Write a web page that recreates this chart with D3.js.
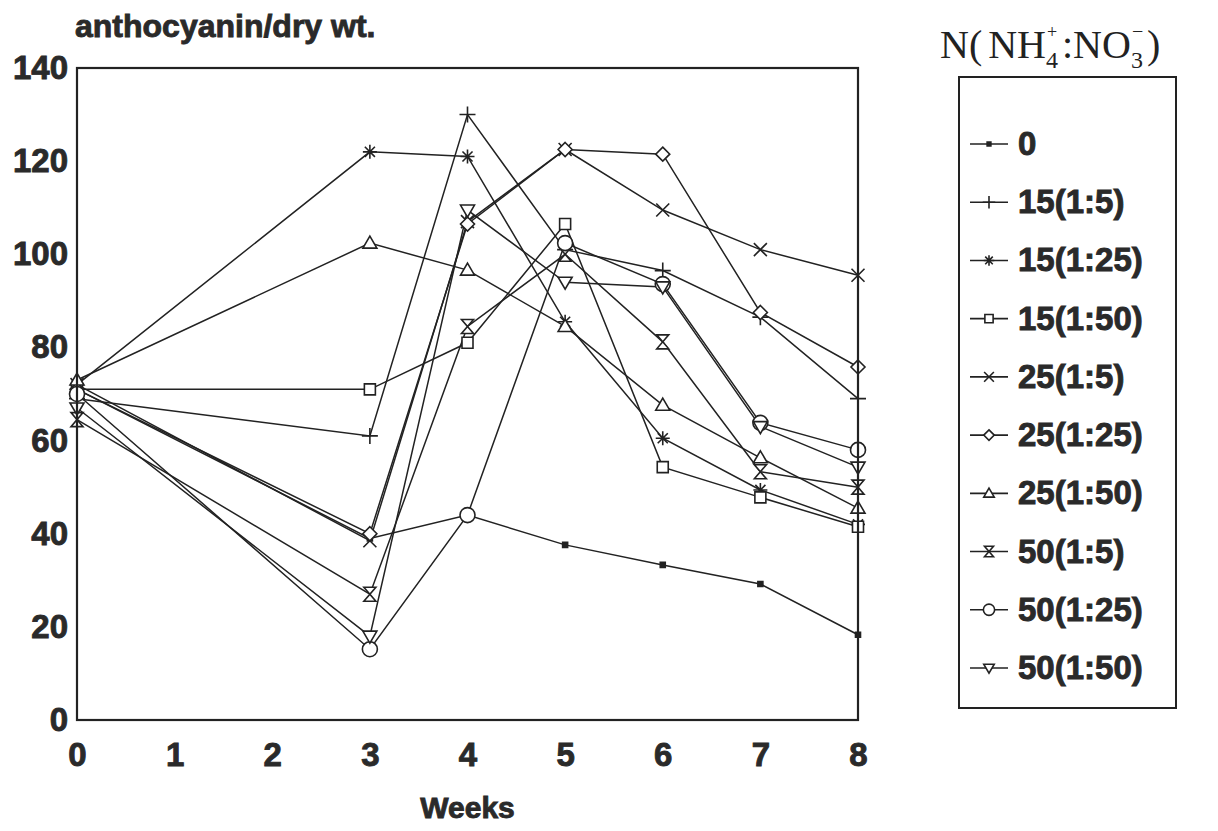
<!DOCTYPE html>
<html lang="en">
<head>
<meta charset="UTF-8">
<title>anthocyanin / dry wt.</title>
<style>
  body { margin: 0; background: #fff; }
  .txt {
    font-family: "Liberation Sans", Arial, sans-serif;
    font-weight: bold;
    fill: #2a2a2a;
    stroke: #2a2a2a;
    stroke-width: 0.9px;
  }
  .ax text {
    font-family: "Liberation Sans", Arial, sans-serif;
    font-weight: bold;
    font-size: 33px;
    fill: #2a2a2a;
    stroke: #2a2a2a;
    stroke-width: 0.9px;
  }
  .ax path, .ax line { display: none; }
  .serif { font-family: "Liberation Serif", "DejaVu Serif", serif; fill: #222; }
</style>
<script src="https://d3js.org/d3.v7.min.js"></script>
</head>
<body>
<script>
// weeks sampled
const weeks = [0, 3, 4, 5, 6, 7, 8];

// anthocyanin per dry weight, one array per N treatment
const n0     = [71, 39, 44, 37.6, 33.3, 29.2, 18.3];
const n15_5  = [69, 61, 130, 101, 96.5, 86.5, 69];
const n15_25 = [72, 122, 121, 85.5, 60.5, 49.4, 42];
const n15_50 = [71, 71, 81, 106.5, 54.3, 47.8, 41.5];
const n25_5  = [72, 38.5, 107, 122.5, 109.5, 101, 95.5];
const n25_25 = [71, 40, 106.5, 122.5, 121.5, 87.5, 75.8];
const n25_50 = [73, 102.4, 96.6, 84.5, 67.6, 56.3, 45.5];
const n50_5  = [64.5, 27, 84.5, 100, 81.2, 53.3, 50];
const n50_25 = [70, 15.2, 44, 102.4, 93.6, 63.8, 58];
const n50_50 = [67, 18, 109.5, 94, 93, 63, 54.3];

const names   = ["0", "15(1:5)", "15(1:25)", "15(1:50)", "25(1:5)", "25(1:25)", "25(1:50)", "50(1:5)", "50(1:25)", "50(1:50)"];
const values  = [n0, n15_5, n15_25, n15_50, n25_5, n25_25, n25_50, n50_5, n50_25, n50_50];
const markers = ["dot", "plus", "star", "square", "cross", "diamond", "triangle", "bowtie", "circle", "tridown"];

const xTicks = [0, 1, 2, 3, 4, 5, 6, 7, 8];
const yTicks = [0, 20, 40, 60, 80, 100, 120, 140];

const W = 1218, H = 831;
const svg = d3.select("body").append("svg")
  .attr("width", W).attr("height", H);

const x = d3.scaleLinear().domain([0, 8]).range([77, 858]);
const y = d3.scaleLinear().domain([0, 140]).range([720, 68]);

const ink = "#222";

// marker shapes, centred at 0,0
function markerPath(type, k) {
  const p = d3.path();
  const s = 7 * k;
  if (type === "dot") {
    p.rect(-2.5 * k, -2.5 * k, 5 * k, 5 * k);
  } else if (type === "plus") {
    p.moveTo(-s - 1, 0); p.lineTo(s + 1, 0);
    p.moveTo(0, -s - 1); p.lineTo(0, s + 1);
  } else if (type === "star") {
    p.moveTo(-s, 0); p.lineTo(s, 0);
    p.moveTo(0, -s); p.lineTo(0, s);
    const d = s * 0.72;
    p.moveTo(-d, -d); p.lineTo(d, d);
    p.moveTo(-d, d); p.lineTo(d, -d);
  } else if (type === "square") {
    p.rect(-5.5 * k, -5.5 * k, 11 * k, 11 * k);
  } else if (type === "cross") {
    const d = 6.5 * k;
    p.moveTo(-d, -d); p.lineTo(d, d);
    p.moveTo(-d, d); p.lineTo(d, -d);
  } else if (type === "diamond") {
    p.moveTo(0, -s); p.lineTo(s, 0); p.lineTo(0, s); p.lineTo(-s, 0); p.closePath();
  } else if (type === "triangle") {
    p.moveTo(0, -s); p.lineTo(s, 5 * k); p.lineTo(-s, 5 * k); p.closePath();
  } else if (type === "bowtie") {
    p.moveTo(-6 * k, -s); p.lineTo(6 * k, -s); p.lineTo(-6 * k, s); p.lineTo(6 * k, s); p.closePath();
  } else if (type === "circle") {
    p.arc(0, 0, 7.5 * k, 0, 2 * Math.PI);
  } else if (type === "tridown") {
    p.moveTo(-s, -5 * k); p.lineTo(s, -5 * k); p.lineTo(0, s); p.closePath();
  }
  return p.toString();
}

function drawMarker(g, type, k) {
  const filled = type === "dot";
  g.append("path")
    .attr("d", markerPath(type, k))
    .attr("fill", filled ? ink : "#fff")
    .attr("stroke", ink)
    .attr("stroke-width", 1.6);
}

// axes (labels only)
svg.append("g").attr("class", "ax")
  .attr("transform", "translate(77,0)")
  .call(d3.axisLeft(y).tickValues(yTicks).tickSize(0).tickPadding(9))
  .call(g => g.select(".domain").remove());

svg.append("g").attr("class", "ax")
  .attr("transform", "translate(0,720)")
  .call(d3.axisBottom(x).tickValues(xTicks).tickSize(0).tickPadding(23))
  .call(g => g.select(".domain").remove());

// lines
const line = d3.line()
  .x((d, i) => x(weeks[i]))
  .y(d => y(d));

values.forEach((vals, si) => {
  svg.append("path")
    .datum(vals)
    .attr("d", line)
    .attr("fill", "none")
    .attr("stroke", ink)
    .attr("stroke-width", 1.5);
});

values.forEach((vals, si) => {
  const g = svg.append("g");
  vals.forEach((v, i) => {
    const m = g.append("g").attr("transform", "translate(" + x(weeks[i]) + "," + y(v) + ")");
    drawMarker(m, markers[si], 1);
  });
});

// frame
svg.append("rect")
  .attr("x", x(0)).attr("y", y(140))
  .attr("width", x(8) - x(0)).attr("height", y(0) - y(140))
  .attr("fill", "none").attr("stroke", ink).attr("stroke-width", 2.2);

// titles
svg.append("text").attr("class", "txt")
  .attr("x", 75).attr("y", 37)
  .style("font-size", "32px")
  .text("anthocyanin/dry wt.");

svg.append("text").attr("class", "txt")
  .attr("x", x(4)).attr("y", 818)
  .attr("text-anchor", "middle")
  .style("font-size", "30px")
  .text("Weeks");

// legend title N(NH4+:NO3-) ; charges drawn above the subscripts
const lt = svg.append("text").attr("class", "serif")
  .attr("x", 940).attr("y", 58)
  .style("font-size", "40px");
lt.append("tspan").text("N(");
lt.append("tspan").attr("dx", 6).text("NH");
const sub4 = lt.append("tspan").attr("dy", 10).style("font-size", "24px").text("4");
lt.append("tspan").attr("dx", 4).attr("dy", -10).text(":NO");
const sub3 = lt.append("tspan").attr("dy", 10).style("font-size", "24px").text("3");
lt.append("tspan").attr("dx", 4).attr("dy", -10).text(")");

const p4 = sub4.node().getStartPositionOfChar(0).x;
const p3 = sub3.node().getStartPositionOfChar(0).x;
svg.append("text").attr("class", "serif")
  .attr("x", p4 + 1).attr("y", 38)
  .style("font-size", "18px").text("+");
svg.append("text").attr("class", "serif")
  .attr("x", p3 + 1).attr("y", 38)
  .style("font-size", "20px").text("\u2212");

// legend box
svg.append("rect")
  .attr("x", 959).attr("y", 77)
  .attr("width", 217).attr("height", 631)
  .attr("fill", "none").attr("stroke", ink).attr("stroke-width", 2);

const rowY = d3.scaleLinear().domain([0, 9]).range([144, 668]);

names.forEach((nm, i) => {
  const g = svg.append("g").attr("transform", "translate(0," + rowY(i) + ")");
  g.append("line")
    .attr("x1", 970).attr("x2", 1008)
    .attr("stroke", ink).attr("stroke-width", 1.6);
  const m = g.append("g").attr("transform", "translate(989,0)");
  drawMarker(m, markers[i], 0.75);
  g.append("text").attr("class", "txt")
    .attr("x", 1018).attr("y", 11)
    .style("font-size", "33px")
    .text(nm);
});
</script>
</body>
</html>
